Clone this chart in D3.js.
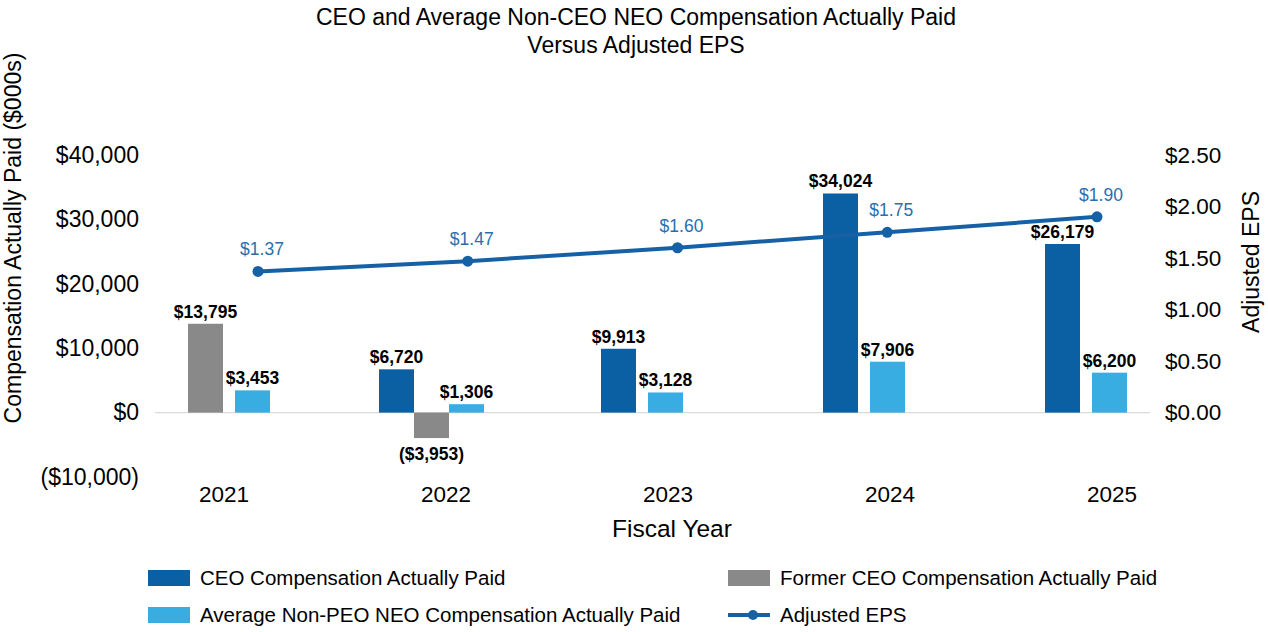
<!DOCTYPE html>
<html>
<head>
<meta charset="utf-8">
<script src="https://cdn.jsdelivr.net/npm/d3@7"></script>
<style>
  body { margin: 0; background: #fff; }
  svg { display: block; font-family: "Liberation Sans", Arial, sans-serif; }
</style>
</head>
<body>
<div id="chart"></div>
<script>
// data, values in $000s
const years = ["2021", "2022", "2023", "2024", "2025"];
const ceoPaid = [null, 6720, 9913, 34024, 26179];
const formerCeoPaid = [13795, -3953, null, null, null];
const avgNeoPaid = [3453, 1306, 3128, 7906, 6200];
const adjustedEps = [1.37, 1.47, 1.60, 1.75, 1.90];
const leftTicks = [-10000, 0, 10000, 20000, 30000, 40000];
const rightTicks = [0, 0.5, 1.0, 1.5, 2.0, 2.5];

const series = [
  { name: "CEO Compensation Actually Paid", values: ceoPaid, color: "#0b5fa3" },
  { name: "Former CEO Compensation Actually Paid", values: formerCeoPaid, color: "#898989" },
  { name: "Average Non-PEO NEO Compensation Actually Paid", values: avgNeoPaid, color: "#38ade1" }
];

const width = 1268, height = 632;
const lineColor = "#1660a5";

const svg = d3.select("#chart").append("svg")
  .attr("width", width)
  .attr("height", height);

// title
svg.append("text")
  .attr("x", 636).attr("y", 25)
  .attr("text-anchor", "middle")
  .attr("font-size", 23)
  .text("CEO and Average Non-CEO NEO Compensation Actually Paid");
svg.append("text")
  .attr("x", 636).attr("y", 53)
  .attr("text-anchor", "middle")
  .attr("font-size", 23)
  .text("Versus Adjusted EPS");

// scales
const yL = d3.scaleLinear().domain([-10000, 40000]).range([477, 155]);
const yR = d3.scaleLinear().domain([0, 2.5]).range([yL(0), yL(40000)]);
const x = d3.scaleBand().domain(years).range([113, 1223]);
const xLine = d3.scalePoint().domain(years).range([258, 1097]);

const fmtMoney = v => v < 0 ? "($" + d3.format(",")(-v) + ")" : "$" + d3.format(",")(v);

// zero line
svg.append("line")
  .attr("x1", 155).attr("x2", 1150)
  .attr("y1", yL(0)).attr("y2", yL(0))
  .attr("stroke", "#d9d9d9")
  .attr("stroke-width", 1.3);

// left axis
const leftAxis = svg.append("g")
  .attr("transform", "translate(147,0)")
  .call(d3.axisLeft(yL).tickValues(leftTicks).tickSize(0).tickPadding(8).tickFormat(fmtMoney));
leftAxis.select(".domain").remove();
leftAxis.selectAll("text")
  .attr("font-size", 23)
  .attr("font-family", "Liberation Sans, Arial, sans-serif")
  .attr("fill", "#000");

// right axis
const rightAxis = svg.append("g")
  .attr("transform", "translate(1157,0)")
  .call(d3.axisRight(yR).tickValues(rightTicks).tickSize(0).tickPadding(8).tickFormat(v => "$" + v.toFixed(2)));
rightAxis.select(".domain").remove();
rightAxis.selectAll("text")
  .attr("font-size", 22.5)
  .attr("font-family", "Liberation Sans, Arial, sans-serif")
  .attr("fill", "#000");

// axis titles
svg.append("text")
  .attr("transform", "translate(21,238) rotate(-90)")
  .attr("text-anchor", "middle")
  .attr("font-size", 23)
  .text("Compensation Actually Paid ($000s)");
svg.append("text")
  .attr("transform", "translate(1259,262) rotate(-90)")
  .attr("text-anchor", "middle")
  .attr("font-size", 23)
  .text("Adjusted EPS");

// x labels
svg.append("g").selectAll("text")
  .data(years)
  .enter().append("text")
  .attr("x", d => x(d) + x.bandwidth() / 2)
  .attr("y", 502)
  .attr("text-anchor", "middle")
  .attr("font-size", 22.5)
  .text(d => d);

svg.append("text")
  .attr("x", 672).attr("y", 537)
  .attr("text-anchor", "middle")
  .attr("font-size", 24.5)
  .text("Fiscal Year");

// bars: only the series that have a value that year; groups sit left of the label,
// except 2021 (no CEO bar) which is pushed right
const barW = 35;
const bars = [];
years.forEach((yr, i) => {
  const present = series.filter(s => s.values[i] !== null);
  const gap = present.length === 2 ? 12 : 0;
  let start = x(yr) + (ceoPaid[i] === null ? 75 : 44);
  present.forEach((s, j) => {
    bars.push({ x: start + j * (barW + gap), value: s.values[i], color: s.color });
  });
});

svg.append("g").selectAll("rect")
  .data(bars)
  .enter().append("rect")
  .attr("x", d => d.x)
  .attr("width", barW)
  .attr("y", d => yL(Math.max(0, d.value)))
  .attr("height", d => Math.abs(yL(d.value) - yL(0)))
  .attr("fill", d => d.color);

svg.append("g").selectAll("text")
  .data(bars)
  .enter().append("text")
  .attr("x", d => d.x + barW / 2)
  .attr("y", d => d.value >= 0 ? yL(d.value) - 6 : yL(d.value) + 22)
  .attr("text-anchor", "middle")
  .attr("font-size", 17.5)
  .attr("font-weight", "bold")
  .text(d => fmtMoney(d.value));

// EPS line
const line = d3.line()
  .x((d, i) => xLine(years[i]))
  .y(d => yR(d));

svg.append("path")
  .datum(adjustedEps)
  .attr("d", line)
  .attr("fill", "none")
  .attr("stroke", lineColor)
  .attr("stroke-width", 4);

svg.append("g").selectAll("circle")
  .data(adjustedEps)
  .enter().append("circle")
  .attr("cx", (d, i) => xLine(years[i]))
  .attr("cy", d => yR(d))
  .attr("r", 5.5)
  .attr("fill", lineColor);

svg.append("g").selectAll("text")
  .data(adjustedEps)
  .enter().append("text")
  .attr("x", (d, i) => xLine(years[i]) + 4)
  .attr("y", d => yR(d) - 16)
  .attr("text-anchor", "middle")
  .attr("font-size", 17.5)
  .attr("fill", "#2a6ead")
  .text(d => "$" + d.toFixed(2));

// legend
const legend = svg.append("g").attr("font-size", 20.5);
const legendItems = [
  { name: series[0].name, color: series[0].color, type: "bar", x: 148, y: 578 },
  { name: series[1].name, color: series[1].color, type: "bar", x: 728, y: 578 },
  { name: series[2].name, color: series[2].color, type: "bar", x: 148, y: 615 },
  { name: "Adjusted EPS", color: lineColor, type: "line", x: 728, y: 615 }
];
legendItems.forEach(item => {
  const g = legend.append("g");
  if (item.type === "bar") {
    g.append("rect")
      .attr("x", item.x).attr("y", item.y - 8)
      .attr("width", 42).attr("height", 16)
      .attr("fill", item.color);
  } else {
    g.append("line")
      .attr("x1", item.x).attr("x2", item.x + 42)
      .attr("y1", item.y).attr("y2", item.y)
      .attr("stroke", item.color).attr("stroke-width", 4);
    g.append("circle")
      .attr("cx", item.x + 25).attr("cy", item.y).attr("r", 5)
      .attr("fill", item.color);
  }
  g.append("text")
    .attr("x", item.x + 52).attr("y", item.y + 7)
    .text(item.name);
});
</script>
</body>
</html>
